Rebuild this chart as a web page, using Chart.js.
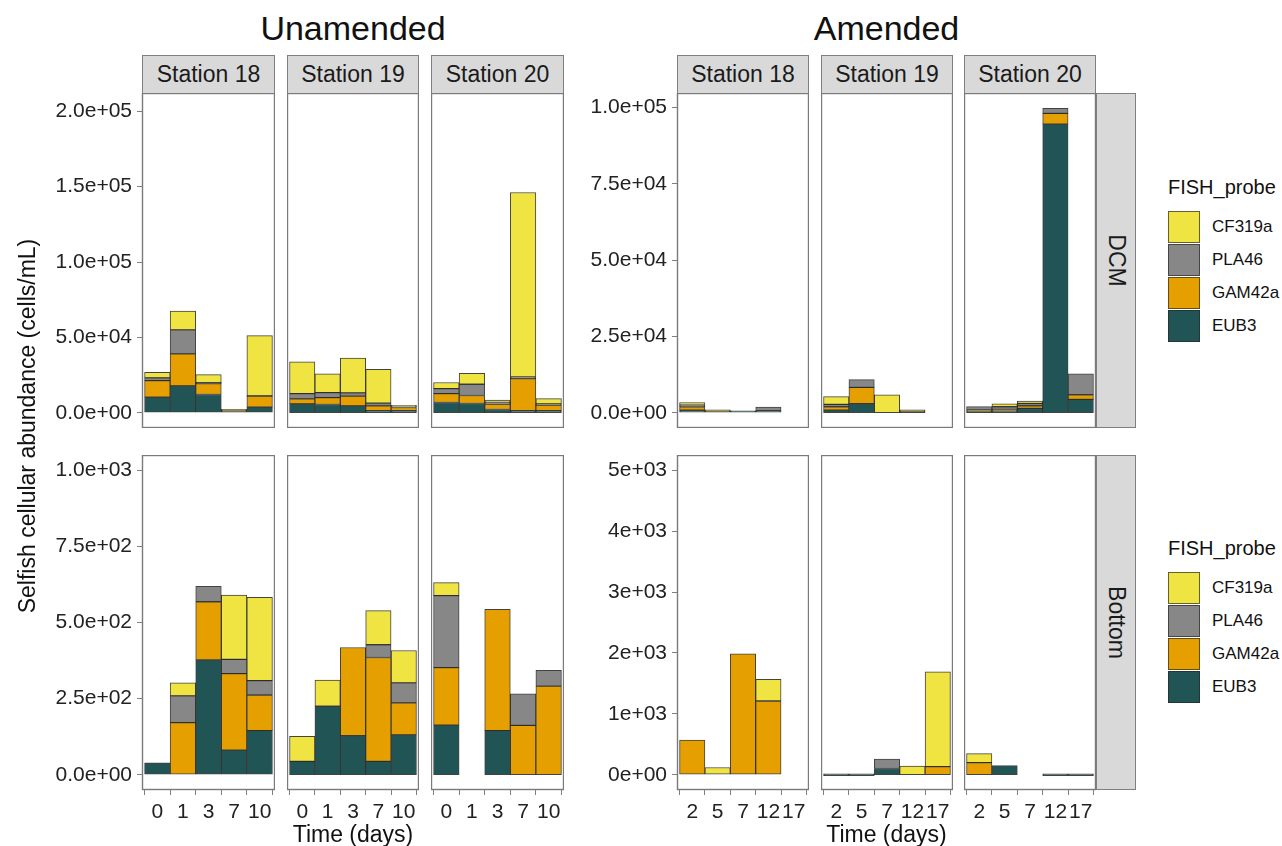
<!DOCTYPE html>
<html>
<head>
<meta charset="utf-8">
<script src="https://cdn.jsdelivr.net/npm/chart.js@4.4.1/dist/chart.umd.min.js"></script>
<style>
  body { margin: 0; background: #fff; font-family: 'Liberation Sans', Arial, sans-serif; }
  #page { position: relative; width: 1282px; height: 846px; overflow: hidden; }
  .abs { position: absolute; }
  .title { font-size: 34px; color: #111; text-align: center; width: 420px; line-height: 36px; }
  .strip { background: #d9d9d9; border: 1px solid #7f7f7f; box-sizing: border-box;
           font-size: 23px; color: #1a1a1a; display: flex; align-items: center; justify-content: center; }
  .rstrip span { transform: rotate(90deg); white-space: nowrap; }
  .axtitle { font-size: 23px; color: #111; white-space: nowrap; }
  .legtitle { font-size: 20px; color: #111; }
  .key { width: 32px; height: 32px; box-sizing: border-box; border: 1px solid rgba(40,40,40,0.7); }
  .keylab { font-size: 17px; color: #111; line-height: 32px; }
</style>
</head>
<body>
<div id="page"></div>
<script>
// categorías / días
const unamendedDays = ['0', '1', '3', '7', '10'];
const amendedDays = ['2', '5', '7', '12', '17'];
const stations = ['Station 18', 'Station 19', 'Station 20'];
const depths = ['DCM', 'Bottom'];
const groups = ['Unamended', 'Amended'];
const probes = ['EUB3', 'GAM42a', 'PLA46', 'CF319a'];   // stacking order, bottom to top
const probeColors = ['#215454', '#e5a000', '#878787', '#f0e443'];

// values per panel, rows follow probes[]
const unDcm18 = [[10300, 17800, 12100, 300, 3700], [11000, 21300, 7200, 900, 7300], [1800, 15900, 700, null, 400], [3700, 12500, 5300, null, 39800]];
const unDcm19 = [[5900, 5500, 4600, 1100, 300], [3300, 4600, 6400, 3300, 2200], [3500, 3300, 2200, 1750, 400], [21100, 12500, 23100, 22400, 1000]];
const unDcm20 = [[6800, 6150, 2200, 400, 700], [5950, 5300, 3500, 21300, 3700], [3300, 7450, 1300, 1100, 900], [4000, 7250, 1350, 122400, 3500]];
const unBot18 = [[39, null, 377, 81, 145], [null, 171, 191, 251, 117], [null, 88, 51, 47, 47], [null, 43, null, 211, 274]];
const unBot19 = [[44, 225, 128, 44, 131], [null, null, 290, 341, 105], [null, null, null, 42, 66], [82, 86, null, 112, 106]];
const unBot20 = [[163, null, 145, null, null], [189, null, 398, 162, 291], [236, null, null, 104, 52], [43, null, null, null, null]];
const amDcm18 = [[880, 100, 150, 220, null], [1100, 300, null, null, null], [550, null, null, 1200, null], [770, null, null, null, null]];
const amDcm19 = [[880, 2960, null, 200, null], [1100, 5370, null, 300, null], [770, 2530, null, null, null], [2520, null, 5920, null, null]];
const amDcm20 = [[650, 660, 1425, 94600, 4400], [250, 440, 880, 3500, 1500], [1100, 870, 770, 1650, 6900], [null, 990, 770, null, null]];
const amBot18 = [[null, null, null, null, null], [568, null, 1984, 1211, null], [null, null, null, null, null], [null, 119, null, 356, null]];
const amBot19 = [[0, 0, 103, null, null], [null, null, null, null, 135], [null, null, 156, null, null], [null, null, null, 141, 1557]];
const amBot20 = [[null, 151, null, 0, 0], [200, null, null, null, null], [null, null, null, null, null], [146, null, null, null, null]];

// y scales (free per group and depth)
const unDcmTicks = [0, 50000, 100000, 150000, 200000];
const unDcmLabels = ['0.0e+00', '5.0e+04', '1.0e+05', '1.5e+05', '2.0e+05'];
const unDcmTop = 202000;
const unBotTicks = [0, 250, 500, 750, 1000];
const unBotLabels = ['0.0e+00', '2.5e+02', '5.0e+02', '7.5e+02', '1.0e+03'];
const unBotTop = 1000;
const amDcmTicks = [0, 25000, 50000, 75000, 100000];
const amDcmLabels = ['0.0e+00', '2.5e+04', '5.0e+04', '7.5e+04', '1.0e+05'];
const amDcmTop = 99800;
const amBotTicks = [0, 1000, 2000, 3000, 4000, 5000];
const amBotLabels = ['0e+00', '1e+03', '2e+03', '3e+03', '4e+03', '5e+03'];
const amBotTop = 5000;

const panelData = [[[unDcm18, unDcm19, unDcm20], [unBot18, unBot19, unBot20]],
                   [[amDcm18, amDcm19, amDcm20], [amBot18, amBot19, amBot20]]];
const yScales = [[[unDcmTicks, unDcmLabels, unDcmTop], [unBotTicks, unBotLabels, unBotTop]],
                 [[amDcmTicks, amDcmLabels, amDcmTop], [amBotTicks, amBotLabels, amBotTop]]];
const dayLabels = [unamendedDays, amendedDays];

// layout in pixels
const colX = [[[142, 275], [287, 419], [431, 564]], [[677, 809], [821, 953], [964, 1096]]];
const rowY = [[93, 428], [455, 790]];
const AXIS_W = 102, AXIS_H = 34;
const page = document.getElementById('page');

function addDiv(cls, left, top, w, h, html) {
    const d = document.createElement('div');
    d.className = 'abs ' + cls;
    d.style.left = left + 'px';
    d.style.top = top + 'px';
    if (w != null) d.style.width = w + 'px';
    if (h != null) d.style.height = h + 'px';
    d.innerHTML = html;
    page.appendChild(d);
    return d;
}

// ramme rundt panelet
const panelBorder = {
    id: 'panelBorder',
    afterDraw(chart) {
        const a = chart.chartArea, ctx = chart.ctx;
        ctx.save();
        ctx.strokeStyle = '#7a7a7a';
        ctx.lineWidth = 1.4;
        ctx.strokeRect(a.left + 0.5, a.top + 0.5, a.right - a.left - 1, a.bottom - a.top - 1);
        ctx.restore();
    }
};

function makePanel(g, r, c) {
    const [x0, x1] = colX[g][c];
    const [y0, y1] = rowY[r];
    const showY = c === 0;
    const showX = r === 1;
    const left = x0 - (showY ? AXIS_W : 0);
    const w = x1 - left;
    const h = (y1 - y0) + (showX ? AXIS_H : 0);
    const holder = addDiv('', left, y0, w, h, '');
    const canvas = document.createElement('canvas');
    canvas.width = w;
    canvas.height = h;
    holder.appendChild(canvas);

    const values = panelData[g][r][c];
    const days = dayLabels[g];
    const [ticks, tickLabels, top] = yScales[g][r];

    const datasets = probes.map((p, k) => ({
        label: p,
        data: values[k].map((v, i) => ({ x: i + 1, y: v })),
        backgroundColor: probeColors[k],
        borderColor: 'rgba(20,20,20,0.8)',
        borderWidth: 1,
        borderSkipped: false,
        barPercentage: 1,
        categoryPercentage: 1,
        minBarLength: k === 0 ? 2 : 0
    }));

    new Chart(canvas, {
        type: 'bar',
        data: { datasets },
        options: {
            responsive: false,
            animation: false,
            layout: { padding: 0 },
            plugins: { legend: { display: false }, tooltip: { enabled: false } },
            scales: {
                x: {
                    type: 'linear', stacked: true, min: 0.4, max: 5.6, offset: false,
                    display: showX,
                    afterBuildTicks: s => { s.ticks = days.map((d, i) => ({ value: i + 1 })); },
                    afterFit: s => {
                        if (showX) s.height = AXIS_H;
                        s.paddingLeft = 0; s.paddingRight = 0;
                    },
                    border: { display: false },
                    grid: { drawOnChartArea: false, drawTicks: true, tickLength: 5, color: '#7f7f7f' },
                    ticks: {
                        autoSkip: false, maxRotation: 0, padding: 5,
                        color: '#222', font: { family: 'Liberation Sans', size: 21 },
                        callback: (v, i) => days[i]
                    }
                },
                y: {
                    stacked: true, min: -0.05 * top, max: 1.05 * top,
                    display: showY,
                    afterBuildTicks: s => { s.ticks = ticks.map(v => ({ value: v })); },
                    afterFit: s => {
                        if (showY) s.width = AXIS_W;
                        s.paddingTop = 0; s.paddingBottom = 0;
                    },
                    border: { display: false },
                    grid: { drawOnChartArea: false, drawTicks: true, tickLength: 5, color: '#7f7f7f' },
                    ticks: {
                        padding: 5, color: '#222', font: { family: 'Liberation Sans', size: 21 },
                        callback: (v, i) => tickLabels[i]
                    }
                }
            }
        },
        plugins: [panelBorder]
    });
}

groups.forEach((name, g) => {
    const gx0 = colX[g][0][0], gx1 = colX[g][2][1];
    addDiv('title', (gx0 + gx1) / 2 - 210, 10, 420, null, name);
    stations.forEach((s, c) => {
        const [x0, x1] = colX[g][c];
        addDiv('strip', x0, 55, x1 - x0, 39, s);
        depths.forEach((d, r) => makePanel(g, r, c));
    });
    addDiv('axtitle', (gx0 + gx1) / 2 - 70, 821, 140, 30, 'Time (days)').style.textAlign = 'center';
});

// row strips
depths.forEach((d, r) => {
    const [y0, y1] = rowY[r];
    addDiv('strip rstrip', 1096, y0, 40, y1 - y0, '<span>' + d + '</span>');
});

// y axis title
const yt = addDiv('axtitle', 27 - 250, 426 - 15, 500, 30, 'Selfish cellular abundance (cells/mL)');
yt.style.textAlign = 'center';
yt.style.lineHeight = '30px';
yt.style.transform = 'rotate(-90deg)';

// legends
[176, 537].forEach(ly => {
    addDiv('legtitle', 1168, ly, null, null, 'FISH_probe');
    probes.slice().reverse().forEach((p, i) => {
        const k = probes.length - 1 - i;
        const key = addDiv('key', 1168, ly + 35 + i * 33, null, null, '');
        key.style.background = probeColors[k];
        addDiv('keylab', 1212, ly + 35 + i * 33, null, null, p);
    });
});
</script>
</body>
</html>
